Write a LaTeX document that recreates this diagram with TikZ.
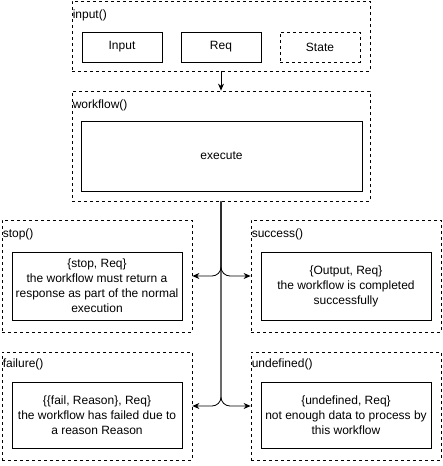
\documentclass[tikz,border=0pt]{standalone}
\usepackage{fontspec}
\setmainfont{Liberation Sans}
\usetikzlibrary{arrows.meta}

\begin{document}
\begin{tikzpicture}[x=1pt,y=-1pt,
    grp/.style={draw,dash pattern=on 3pt off 3pt,line width=0.8pt,inner sep=0pt},
    solidbox/.style={draw,line width=0.8pt,inner sep=2pt,align=center},
    dashbox/.style={solidbox,dash pattern=on 3pt off 3pt},
    grplabel/.style={anchor=west,inner sep=1pt},
    flow/.style={line width=0.8pt,-{Stealth[length=7pt,width=6pt]},rounded corners=9pt},
    font=\fontsize{12}{15}\selectfont]
    \useasboundingbox (0,0) rectangle (443,466);

    % input()
    \node[grp,minimum width=298pt,minimum height=70pt] (grpinput) at (221,36) {};
    \node[grplabel] (lblinput) at ([yshift=-15pt]grpinput.north west) {input()};
    \node[solidbox,minimum width=80pt,minimum height=30pt] (boxinput) at (122,47) {Input};
    \node[solidbox,minimum width=80pt,minimum height=30pt] (boxreq) at (221,47) {Req};
    \node[dashbox,minimum width=80pt,minimum height=30pt] (boxstate) at (320,47) {State};

    % workflow()
    \node[grp,minimum width=298pt,minimum height=110pt] (grpworkflow) at (221,146) {};
    \node[grplabel] (lblworkflow) at ([yshift=-15pt]grpworkflow.north west) {workflow()};
    \node[solidbox,minimum width=281pt,minimum height=70pt] (boxexec) at (221.5,156) {execute};

    % results
    \node[grp,minimum width=190pt,minimum height=112pt] (grpstop) at (97,276) {};
    \node[grplabel] (lblstop) at ([yshift=-15pt]grpstop.north west) {stop()};
    \node[solidbox,minimum width=170pt,minimum height=68pt] (boxstop) at (97,286)
        {\{stop, Req\}\\the workflow must return a\\response as part of the normal\\execution};

    \node[grp,minimum width=190pt,minimum height=112pt] (grpsuccess) at (346,276) {};
    \node[grplabel] (lblsuccess) at ([yshift=-15pt]grpsuccess.north west) {success()};
    \node[solidbox,minimum width=170pt,minimum height=68pt] (boxsuccess) at (346,286)
        {\{Output, Req\}\\the workflow is completed\\successfully};

    \node[grp,minimum width=190pt,minimum height=108pt] (grpfailure) at (97,406) {};
    \node[grplabel] (lblfailure) at ([yshift=-13pt]grpfailure.north west) {failure()};
    \node[solidbox,minimum width=170pt,minimum height=66pt] (boxfailure) at (97,415)
        {\{\{fail, Reason\}, Req\}\\the workflow has failed due to\\a reason Reason};

    \node[grp,minimum width=190pt,minimum height=108pt] (grpundef) at (346,406) {};
    \node[grplabel] (lblundef) at ([yshift=-13pt]grpundef.north west) {undefined()};
    \node[solidbox,minimum width=170pt,minimum height=66pt] (boxundef) at (346,415)
        {\{undefined, Req\}\\not enough data to process by\\this workflow};

    % connectors
    \draw[flow] (grpinput.south) -- (grpworkflow.north);
    \draw[flow] (grpworkflow.south) |- (grpstop.east);
    \draw[flow] (grpworkflow.south) |- (grpsuccess.west);
    \draw[flow] (grpworkflow.south) |- (grpfailure.east);
    \draw[flow] (grpworkflow.south) |- (grpundef.west);
\end{tikzpicture}
\end{document}
